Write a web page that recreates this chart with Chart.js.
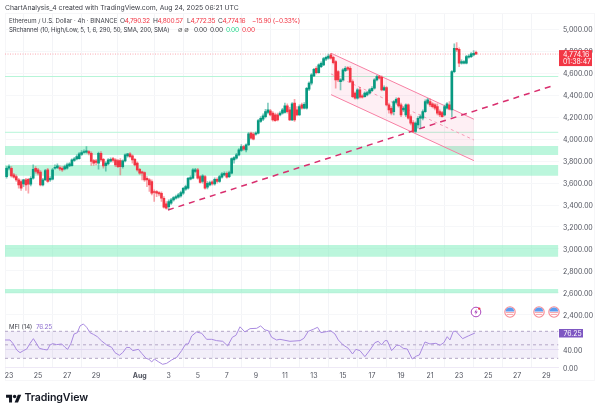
<!DOCTYPE html>
<html><head><meta charset="utf-8">
<style>
html,body{margin:0;padding:0;background:#fff;width:600px;height:413px;overflow:hidden}
#wrap{position:relative;width:600px;height:413px;font-family:Inter,"Noto Sans",sans-serif;color:#3d3f47;filter:blur(.3px)}
canvas{position:absolute;left:0;top:0}
.t{position:absolute;white-space:nowrap;font-size:6.6px;line-height:8px}
.n{letter-spacing:-.3px}
.s{font-size:6.1px}
.r{color:#f23645}.g{color:#22d68a}
#frame{position:absolute;left:5px;top:13px;width:590px;height:368px;border:1px solid #f6f6f8;box-sizing:border-box}
svg{position:absolute}
</style></head><body><div id="wrap">
<div id="frame"></div>
<canvas id="c" width="600" height="413"></canvas>
<div class="t" style="left:5px;top:4px;font-size:6.8px">ChartAnalysis_4 created with TradingView.com, Aug 24, 2025 06:21 UTC</div>
<div class="t s" style="left:9px;top:17px">Ethereum / U.S. Dollar · 4h · BINANCE</div>
<div class="t n" style="left:120px;top:17px">O<span class="r">4,790.32</span></div>
<div class="t n" style="left:153px;top:17px">H<span class="r">4,800.57</span></div>
<div class="t n" style="left:187px;top:17px">L<span class="r">4,772.35</span></div>
<div class="t n" style="left:218px;top:17px">C<span class="r">4,774.16</span></div>
<div class="t r n" style="left:252px;top:17px">−15.90 (−0.33%)</div>
<div class="t s" style="left:9px;top:26px;letter-spacing:-.13px">SRchannel (10, High/Low, 5, 1, 6, 290, 50, SMA, 200, SMA)</div>
<div class="t" style="left:178px;top:26px;color:#555">∅ ∅</div>
<div class="t n" style="left:194px;top:26px">0.00</div>
<div class="t n" style="left:210px;top:26px">0.00</div>
<div class="t g n" style="left:226px;top:26px">0.00</div>
<div class="t r n" style="left:242px;top:26px">0.00</div>
<div class="t s" style="left:9px;top:323px">MFI (14)</div>
<div class="t n" style="left:36px;top:323px;color:#8e6fd0">76.25</div>
<svg style="left:6px;top:394px" width="15.5" height="9" viewBox="0 0 36 21"><path fill="#131722" d="M14 20H7V9H0V2h14v18zM28 20h-8l7.5-18h8L28 20z"/><circle cx="20" cy="6" r="4" fill="#131722"/></svg>
<div style="position:absolute;left:24.5px;top:391px;font-size:10.6px;line-height:13px;font-weight:600;color:#131722;letter-spacing:-.1px">TradingView</div>
<svg style="left:470px;top:306px" width="12" height="12" viewBox="0 0 12 12"><circle cx="6" cy="6" r="4.8" fill="#fff" stroke="#ab47bc" stroke-width="1"/><path d="M6.6 3 4.3 6.5h1.6L5.3 9l2.4-3.5H6.1z" fill="#ab47bc"/><circle cx="9.2" cy="2.6" r="1.2" fill="#f23645"/></svg>
<svg style="left:504px;top:306px" width="12" height="12" viewBox="0 0 12 12"><circle cx="6" cy="6" r="5.2" fill="#fff" stroke="#f78a94" stroke-width="1.1"/><path d="M1.8 6.4h8.4M2.6 8.4h6.8" stroke="#f7a0a8"/><path d="M1.6 5.4V5A4.4 4.4 0 0 1 6 1.4a4.4 4.4 0 0 1 4.2 4z" fill="#5b9cf0"/></svg>
<svg style="left:533px;top:306px" width="12" height="12" viewBox="0 0 12 12"><circle cx="6" cy="6" r="5.2" fill="#fff" stroke="#f78a94" stroke-width="1.1"/><path d="M1.8 6.4h8.4M2.6 8.4h6.8" stroke="#f7a0a8"/><path d="M1.6 5.4V5A4.4 4.4 0 0 1 6 1.4a4.4 4.4 0 0 1 4.2 4z" fill="#5b9cf0"/></svg>
<svg style="left:548px;top:306px" width="12" height="12" viewBox="0 0 12 12"><circle cx="6" cy="6" r="5.2" fill="#fff" stroke="#f78a94" stroke-width="1.1"/><path d="M1.8 6.4h8.4M2.6 8.4h6.8" stroke="#f7a0a8"/><path d="M1.6 5.4V5A4.4 4.4 0 0 1 6 1.4a4.4 4.4 0 0 1 4.2 4z" fill="#5b9cf0"/></svg>
</div>
<script src="https://cdn.jsdelivr.net/npm/chart.js@4/dist/chart.umd.min.js"></script>
<script>
const tickDays=[0,2,4,6,9,11,13,15,17,19,21,23,25,27,29,31,33,35,37];
const tickLabels=['23','25','27','29','Aug','3','5','7','9','11','13','15','17','19','21','23','25','27','29'];
const priceTicks=[2400,2600,2800,3000,3200,3400,3600,3800,4000,4200,4400,4600,4800,5000];
const mfiTicks=[0,40];
const opens=[3659,3735,3735,3675,3659,3629,3614,3593,3629,3635,3590,3644,3735,3720,3699,3584,3629,3720,3629,3635,3735,3741,3741,3735,3729,3735,3756,3759,3805,3820,3823,3860,3878,3881,3887,3871,3805,3802,3781,3871,3817,3759,3775,3799,3823,3811,3805,3805,3750,3802,3847,3866,3847,3817,3781,3726,3702,3696,3644,3629,3614,3523,3523,3514,3507,3462,3411,3386,3416,3447,3462,3471,3483,3507,3544,3553,3635,3644,3705,3720,3659,3614,3659,3562,3584,3611,3593,3635,3614,3653,3675,3689,3659,3689,3811,3826,3856,3896,3932,3902,3947,4054,4045,4045,4054,4160,4181,4205,4242,4257,4236,4221,4221,4221,4236,4242,4303,4266,4175,4327,4266,4221,
4312,4281,4281,4454,4509,4575,4645,4606,4660,4676,4727,4736,4767,4745,4706,4615,4524,4539,4624,4651,4645,4524,4418,4372,4448,4393,4387,4402,4418,4442,4463,4539,4569,4563,4448,4469,4312,4281,4251,4333,4372,4312,4266,4221,4312,4205,4151,4069,4130,4190,4190,4251,4327,4342,4321,4312,4296,4251,4242,4221,4281,4312,4266,4615,4827,4818,4691,4691,4691,4745,4751,4767,4790.32];
const closes=[3735,3750,3665,3653,3629,3584,3553,3629,3584,3590,3644,3726,3705,3689,3584,3629,3714,3614,3644,3720,3744,3756,3729,3720,3750,3766,3775,3811,3820,3841,3866,3878,3887,3893,3871,3796,3781,3787,3871,3811,3756,3781,3811,3817,3805,3766,3750,3750,3802,3856,3866,3841,3811,3766,3720,3689,3689,3629,3629,3584,3507,3514,3507,3502,3462,3380,3371,3432,3447,3468,3477,3493,3514,3553,3568,3644,3650,3720,3720,3644,3605,3665,3553,3598,3605,3593,3635,3614,3659,3684,3689,3653,3696,3823,3832,3856,3902,3932,3908,3947,4048,4008,3999,4054,4169,4190,4211,4251,4266,4221,4175,4169,4175,4236,4266,4303,4251,4175,4321,4175,4221,4297,
4281,4317,4463,4509,4585,4636,4606,4676,4691,4733,4745,4757,4736,4697,4539,4539,4539,4630,4645,4636,4524,4387,4372,4448,4381,4381,4418,4424,4448,4463,4539,4569,4554,4448,4469,4312,4266,4236,4342,4363,4303,4221,4281,4312,4190,4145,4069,4145,4190,4205,4251,4342,4357,4312,4296,4281,4236,4221,4205,4296,4321,4272,4615,4827,4812,4691,4706,4706,4751,4757,4776,4782,4774.16];
const highs=[3750,3766,3750,3689,3675,3644,3629,3635,3644,3644,3659,3766,3750,3735,3714,3644,3726,3735,3659,3735,3766,3775,3756,3750,3763,3781,3787,3820,3835,3856,3878,3896,3902,3932,3896,3884,3817,3817,3881,3887,3826,3796,3823,3829,3835,3823,3817,3823,3811,3866,3871,3878,3856,3826,3793,3735,3708,3702,3659,3641,3629,3538,3532,3523,3520,3477,3432,3447,3462,3477,3490,3507,3526,3562,3581,3653,3665,3732,3735,3735,3671,3678,3671,3614,3617,3623,3647,3647,3671,3696,3702,3702,3708,3829,3841,3871,3914,3950,3944,3957,4060,4063,4060,4066,4181,4205,4230,4272,4327,4272,4251,4236,4236,4251,4281,4327,4321,4290,4333,4363,4297,4312,
4327,4333,4472,4521,4597,4645,4660,4685,4703,4745,4757,4773,4782,4757,4715,4624,4551,4642,4660,4660,4660,4539,4430,4460,4472,4406,4430,4436,4460,4478,4551,4581,4581,4575,4485,4478,4327,4296,4351,4375,4381,4327,4296,4321,4321,4221,4169,4157,4205,4221,4266,4357,4372,4366,4333,4324,4321,4266,4254,4309,4333,4342,4624,4867,4879,4830,4721,4715,4763,4770,4788,4806,4800.57];
const lows=[3644,3720,3653,3644,3614,3553,3532,3568,3532,3507,3575,3635,3689,3675,3575,3575,3623,3605,3614,3629,3726,3732,3714,3705,3720,3726,3750,3753,3796,3811,3817,3851,3871,3871,3856,3760,3760,3766,3726,3796,3735,3708,3766,3790,3790,3750,3741,3675,3735,3793,3835,3829,3781,3756,3708,3678,3629,3614,3568,3523,3493,3432,3477,3484,3432,3371,3362,3362,3405,3435,3453,3462,3471,3496,3532,3544,3629,3638,3696,3635,3598,3598,3544,3547,3575,3581,3581,3598,3605,3644,3665,3644,3650,3684,3781,3817,3847,3887,3896,3884,3941,3999,3993,4036,4048,4151,4169,4193,4230,4212,4163,4160,4166,4212,4227,4236,4236,4169,4169,4160,4212,4215,
4272,4275,4272,4442,4494,4569,4594,4600,4651,4669,4715,4727,4727,4685,4463,4524,4448,4527,4615,4624,4515,4378,4363,4363,4372,4372,4381,4393,4409,4433,4454,4530,4545,4439,4442,4303,4236,4221,4221,4321,4290,4205,4251,4205,4181,4130,4060,4060,4099,4099,4175,4242,4318,4296,4284,4266,4221,4205,4199,4212,4272,4266,4205,4606,4797,4660,4682,4685,4685,4736,4742,4757,4772.35];
const mfiDays=[-0.28,0.07,0.3,0.53,0.76,0.99,1.22,1.45,1.68,1.91,2.09,2.36,2.64,2.82,3.01,3.28,3.63,3.86,4.04,4.27,4.48,4.71,4.89,5.12,5.35,5.58,5.81,6.08,6.38,6.73,7.07,7.3,7.6,7.83,8.1,8.33,8.52,8.91,9.14,9.44,9.64,9.83,10.01,10.28,10.58,10.86,11.2,11.55,11.89,12.17,12.35,12.58,12.92,13.27,13.61,13.96,14.3,14.72,15.06,15.38,15.63,15.91,16.25,16.6,17.06,17.33,17.63,17.86,18.09,18.43,18.66,19.35,20.04,20.31,20.61,20.96,21.25,21.48,21.87,22.15,22.45,22.68,23.02,23.37,23.66,23.89,24.17,24.51,24.86,25.2,25.43,25.66,25.89,26.05,26.35,26.69,26.88,27.15,27.43,27.77,28.07,28.26,28.65,28.99,29.4,29.68,29.95,30.18,30.37,30.6,30.78,31.24,31.63,32.09];
const mfiValues=[60.7,60.7,51.9,38.5,32.6,37,40.7,53.3,63.7,51.9,42.2,40,38.5,49.6,52.6,50.4,51.9,44.4,40,53.3,74,77,91.9,96.3,88.9,77,73.3,68.1,58.5,49.6,44.4,32.6,26.7,32.6,44.4,43.7,37,40,31.1,20,17.8,11.9,18.5,12.6,6.7,8.9,16.3,22.2,37,51.9,51.9,69.6,78.5,75.6,62.2,62.2,59.3,57.8,47.4,66.7,71.1,90,78.5,85.9,86.7,91.9,83,81.5,66.7,60.7,62.2,57.8,59.3,64.4,80,84.4,88.9,77,79.3,81.5,74,60.7,49.6,42.2,29.6,40,37,23.7,38.5,54.8,57.8,49.6,59.3,59.3,37,48.9,48.9,42.2,40.7,18.5,25.2,27.4,56.3,51.9,53.3,48.9,54.8,68.1,60.7,80,80,63.7,69.6,76.25];
const zoneTops=[3938,3765,3037,2636];
const zoneBottoms=[3856,3667,2930,2597];
const srLevels=[4570,4062];
const channelDays=[22.18,32.02];
const channelUpper=[4782,4181];
const channelMiddle=[4593,3992];
const channelLower=[4405,3804];
const trendDays=[10.95,37.47];
const trendPrices=[3355,4487];
const mfiLevels=[80,50,20];
const firstBarDay=-1/6;
const axisMinDay=-0.2755, axisMaxDay=37.845;
const priceMin=2357, priceMax=5139, mfiMin=-1.5, mfiMax=106;

const UP='#089981',DOWN='#f23645';
const barDay=i=>firstBarDay+i/6;
const edge=[axisMinDay,axisMaxDay];
const hline=(v,extra,axis)=>Object.assign({type:'line',yAxisID:axis||'y',data:edge.map(x=>({x,y:v})),pointRadius:0,borderWidth:1,tension:0},extra);
const pts=(xs,ys)=>xs.map((x,i)=>({x,y:ys[i]}));
const last=closes[closes.length-1], lastMfi=mfiValues[mfiValues.length-1];
const datasets=[];
zoneTops.forEach((t,i)=>datasets.push(hline(t,{order:20,borderWidth:0,borderColor:'transparent',backgroundColor:'rgba(120,238,185,.5)',fill:{value:zoneBottoms[i]}})));
srLevels.forEach(v=>datasets.push(hline(v,{order:19,borderColor:'#b7f5d8'})));
datasets.push({type:'line',order:15,data:pts(channelDays,channelUpper),pointRadius:0,borderWidth:1,borderColor:'#f77fa3'});
datasets.push({type:'line',order:16,data:pts(channelDays,channelLower),pointRadius:0,borderWidth:1,borderColor:'#f77fa3',backgroundColor:'rgba(242,54,110,.08)',fill:'-1'});
datasets.push({type:'line',order:15,data:pts(channelDays,channelMiddle),pointRadius:0,borderWidth:1,borderColor:'#f59ab5',borderDash:[3,3]});
datasets.push({type:'line',order:6,data:pts(trendDays,trendPrices),pointRadius:0,borderWidth:1.5,borderColor:'#d92e6e',borderDash:[6,5]});
datasets.push(hline(last,{order:14,borderColor:'#f9a9b1',borderDash:[1,1.5]}));
const cols=opens.map((o,i)=>closes[i]>=o?UP:DOWN);
const wickCols=opens.map((o,i)=>closes[i]>=o?'rgba(8,153,129,.5)':'rgba(242,54,69,.45)');
datasets.push({type:'bar',order:5,grouped:false,barThickness:1,data:opens.map((o,i)=>({x:barDay(i),y:[lows[i],highs[i]]})),backgroundColor:wickCols});
datasets.push({type:'bar',order:4,grouped:false,barThickness:2,minBarLength:1,data:opens.map((o,i)=>({x:barDay(i),y:[o,closes[i]]})),backgroundColor:cols});
datasets.push(hline(mfiLevels[0],{order:12,borderWidth:0,borderColor:'transparent',backgroundColor:'rgba(126,87,194,.1)',fill:{value:mfiLevels[2]}},'yM'));
mfiLevels.forEach(v=>datasets.push(hline(v,{order:11,borderColor:'#b3a6c6',borderDash:[3,3]},'yM')));
datasets.push({type:'line',order:3,yAxisID:'yM',data:pts(mfiDays,mfiValues),pointRadius:0,borderWidth:1,borderColor:'#a98ae0',tension:0});

const boxes={id:'boxes',afterDraw(ch){
 const c=ch.ctx,y=ch.scales.y.getPixelForValue(last),m=ch.scales.yM.getPixelForValue(lastMfi);
 c.save();c.textBaseline='middle';c.textAlign='left';
 c.fillStyle=DOWN;c.fillRect(559,y-4,33,16);
 c.fillStyle='#fff';c.font='6.9px Inter';c.fillText('4,774.16',563,y+0.7);c.fillText('01:38:47',563,y+8);
 c.fillStyle='#7e57c2';c.fillRect(559,m-4,24,8.5);
 c.fillStyle='#fff';c.fillText('76.25',563.5,m+0.6);
 c.restore();
}};
new Chart(document.getElementById('c'),{
 type:'bar',data:{datasets},plugins:[boxes],
 options:{responsive:false,animation:false,devicePixelRatio:1,
  layout:{padding:{left:5,top:14,right:0,bottom:29}},
  plugins:{legend:{display:false},tooltip:{enabled:false}},
  scales:{
   x:{type:'linear',min:axisMinDay,max:axisMaxDay,offset:false,
    afterBuildTicks(s){s.ticks=tickDays.map(value=>({value}));},
    afterFit(s){s.height=16;},
    border:{display:false},
    grid:{color:'#f3f4f7',drawTicks:false,lineWidth:1},
    ticks:{autoSkip:false,maxRotation:0,padding:4,color:'#50535e',
     font:c=>({family:'Inter',size:7,weight:c.tick&&tickDays.indexOf(c.tick.value)===4?'700':'400'}),
     callback:v=>tickLabels[tickDays.indexOf(v)]}},
   y:{type:'linear',position:'right',stack:'p',stackWeight:305.6,min:priceMin,max:priceMax,
    afterBuildTicks(s){s.ticks=priceTicks.map(value=>({value}));},
    afterFit(s){s.width=41.5;},
    border:{display:false},
    grid:{color:'#f6f7f9',drawTicks:false},
    ticks:{padding:4.5,labelOffset:1,color:'#50535e',font:{family:'Inter',size:7},autoSkip:false,
     callback:v=>v.toLocaleString('en-US',{minimumFractionDigits:2,maximumFractionDigits:2})}},
   yM:{type:'linear',position:'right',stack:'p',stackWeight:48.4,min:mfiMin,max:mfiMax,
    afterBuildTicks(s){s.ticks=mfiTicks.map(value=>({value}));},
    afterFit(s){s.width=41.5;},
    border:{display:false},
    grid:{color:'#eee9f6',drawTicks:false},
    ticks:{padding:4.5,labelOffset:1.5,color:'#50535e',font:{family:'Inter',size:7},autoSkip:false,
     callback:v=>v.toFixed(2)}}
  }}
});
</script></body></html>
